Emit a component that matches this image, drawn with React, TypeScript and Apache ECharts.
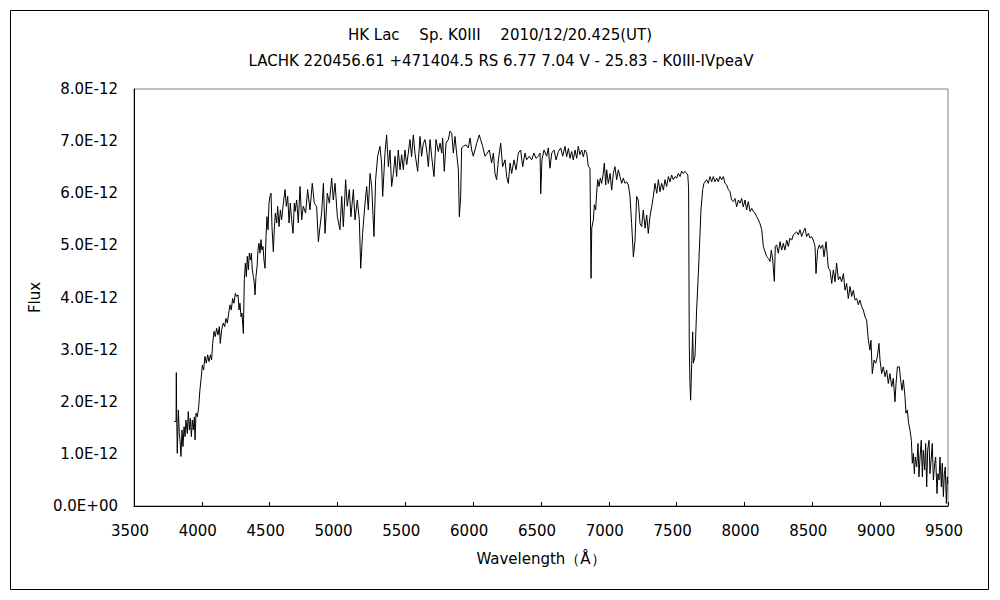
import React, { useEffect, useRef } from "react";
import * as echarts from "echarts";

// Flux values are in units of 1E-12
const TITLE_LINE_1 = "HK Lac 　Sp. K0III 　2010/12/20.425(UT)";
const TITLE_LINE_2 = "LACHK 220456.61 +471404.5 RS 6.77 7.04 V - 25.83 - K0III-IVpeaV";
const X_NAME = "Wavelength（Å）";
const Y_NAME = "Flux";
const X_MIN = 3500, X_MAX = 9500, X_STEP = 500;
const Y_MIN = 0, Y_MAX = 8, Y_STEP = 1;

const SPEC_BLUE: [number, number][] = [
  [3797,1.62],[3810,1.62],[3812,2.56],[3814,1.87],[3819,1.01],[3827,1.84],[3834,1.39],[3839,1.27],[3846,0.95],[3854,1.46],
  [3861,1.14],[3869,1.52],[3876,1.33],[3883,1.65],[3893,1.39],[3900,1.81],[3908,1.46],[3915,1.68],[3923,1.33],[3930,1.65],
  [3937,1.46],[3945,1.71],[3950,1.27],[3957,1.78],[3967,1.71],[3977,1.91],[3986,2.23],[3996,2.48],[4004,2.70],[4013,2.61],
  [4023,2.87],[4033,2.74],[4043,2.90],[4053,2.77],[4063,2.90],[4072,2.80],[4080,3.12],[4090,3.35],[4099,3.25],[4109,3.41],
  [4119,3.28],[4129,3.44],[4136,3.12],[4146,3.38],[4158,3.51],[4168,3.44],[4178,3.60],[4188,3.51],[4198,3.70],[4208,3.86],
  [4217,3.76],[4227,3.98],[4237,3.89],[4247,4.08],[4257,4.02],[4267,4.05],[4274,3.76],[4281,3.89],[4289,3.63],[4296,3.70],
  [4306,3.31],[4313,4.34],[4321,4.66],[4328,4.40],[4335,4.79],[4343,4.53],[4350,4.85],[4358,4.72],[4365,4.85],[4372,4.53],
  [4380,4.40],[4387,4.27],[4392,4.05],[4399,4.40],[4407,4.59],[4414,4.91],[4421,5.04],[4429,4.85],[4436,5.11],[4443,4.91],
  [4451,4.98],[4458,4.72],[4466,4.56],[4473,5.17],[4480,5.55],[4488,5.30],[4495,5.81],[4502,5.94],[4510,6.00],[4517,5.36],
  [4527,4.88],[4534,5.30],[4542,5.62],[4552,5.43],[4559,5.75],[4569,5.36],[4579,5.68],[4588,5.49],[4601,5.81],[4613,6.07],
  [4623,5.75],[4633,5.94],[4643,5.43],[4652,5.81],[4662,5.49],[4672,5.23],[4682,5.81],
];

const SPEC_GREEN: [number, number][] = [
  [4687,5.65],[4699,5.87],[4711,5.43],[4724,6.13],[4736,5.49],[4748,5.75],[4765,5.62],[4780,6.07],[4797,5.68],[4814,6.19],
  [4829,5.81],[4846,5.75],[4859,5.07],[4871,5.36],[4883,5.62],[4896,6.19],[4908,5.23],[4925,6.00],[4940,5.81],[4957,6.29],
  [4969,5.87],[4982,6.19],[4999,5.55],[5018,5.30],[5031,5.94],[5043,5.36],[5060,6.26],[5072,5.75],[5087,6.07],[5099,5.55],
  [5117,6.07],[5129,5.49],[5146,5.87],[5161,5.49],[5171,4.56],[5185,5.23],[5203,5.81],[5215,6.13],[5227,5.68],[5240,6.38],
  [5252,6.13],[5269,5.17],[5281,6.26],[5296,6.71],[5313,6.90],[5325,6.58],[5333,5.94],[5350,6.77],[5362,7.12],[5375,6.51],
  [5387,6.83],[5399,6.13],[5412,6.38],[5424,6.71],[5436,6.32],[5448,6.83],[5461,6.45],[5473,6.74],[5485,6.45],[5497,6.83],
  [5510,6.55],[5522,6.77],[5534,7.03],[5546,6.70],[5559,7.12],[5571,6.77],[5591,6.42],[5608,7.09],[5620,6.71],[5632,6.95],
  [5645,7.03],[5657,6.83],[5670,6.51],[5682,7.03],[5694,6.71],[5711,6.32],
];

const SPEC_YELLOW: [number, number][] = [
  [5726,7.03],[5743,6.80],[5756,6.96],[5768,6.77],[5775,7.06],[5787,6.42],[5800,6.96],[5817,7.03],[5829,7.19],[5842,7.15],
  [5854,6.77],[5866,7.09],[5878,6.77],[5891,6.45],[5898,5.55],[5908,5.94],[5915,6.87],[5928,6.90],[5947,6.93],[5964,6.87],
  [5977,7.06],[5989,6.83],[6001,6.71],[6026,6.96],[6045,7.12],[6055,7.03],[6070,6.90],[6087,6.71],[6104,6.77],[6119,6.83],
  [6136,6.58],[6149,6.77],[6161,6.38],[6173,6.26],[6186,6.64],[6203,6.96],[6217,6.51],[6235,6.64],[6247,6.32],[6259,6.19],
  [6272,6.58],[6284,6.38],[6301,6.64],[6316,6.45],[6333,6.77],[6350,6.83],[6365,6.51],[6382,6.77],[6394,6.64],[6414,6.71],
  [6431,6.64],[6448,6.77],[6463,6.67],[6480,6.71],[6493,6.77],[6498,5.99],[6507,6.64],[6522,6.83],[6542,6.71],[6554,6.87],
  [6566,6.48],[6579,6.77],[6596,6.83],[6611,6.64],[6628,6.80],[6645,6.87],[6660,6.71],[6677,6.90],[6689,6.70],[6702,6.86],
];

const SPEC_ORANGE: [number, number][] = [
  [6714,6.67],[6726,6.80],[6738,6.64],[6751,6.83],[6763,6.67],[6775,6.90],[6787,6.74],[6800,6.83],[6812,6.70],[6824,6.83],
  [6837,6.77],[6849,6.51],[6861,6.48],[6869,4.37],[6874,5.33],[6886,5.49],[6893,5.78],[6903,5.68],[6910,6.00],[6918,6.26],
  [6928,6.13],[6937,6.29],[6947,6.19],[6959,6.38],[6967,6.58],[6977,6.16],[6984,6.45],[6996,6.19],[7009,6.38],[7021,6.06],
  [7033,6.38],[7045,6.51],[7058,6.26],[7070,6.45],[7082,6.32],[7095,6.19],[7107,6.29],[7119,6.19],[7131,6.22],[7144,6.16],
  [7156,5.94],[7168,5.42],[7181,4.78],[7193,5.10],[7205,5.94],[7217,5.87],[7230,5.42],[7242,5.36],[7254,5.68],[7267,5.33],
  [7279,5.58],[7291,5.23],[7303,5.55],[7316,5.74],[7328,5.94],[7340,6.19],[7353,6.00],[7365,6.26],[7377,6.03],[7389,6.19],
  [7402,6.06],[7414,6.26],[7426,6.13],[7439,6.32],[7451,6.22],[7463,6.35],[7475,6.26],[7488,6.32],[7500,6.29],[7512,6.38],
  [7525,6.32],[7537,6.42],[7549,6.38],[7561,6.42],[7574,6.38],[7582,6.35],[7588,6.10],
];

const SPEC_RED: [number, number][] = [
  [7593,3.06],[7598,2.35],[7603,2.03],[7611,2.74],[7618,3.34],[7623,2.74],[7635,2.87],[7647,3.76],[7660,4.46],[7672,5.23],
  [7679,5.68],[7692,6.07],[7701,6.19],[7721,6.26],[7733,6.19],[7746,6.32],[7758,6.22],[7770,6.32],[7783,6.22],[7795,6.29],
  [7807,6.22],[7819,6.32],[7832,6.26],[7844,6.32],[7856,6.19],[7869,6.16],[7881,6.07],[7893,6.03],[7905,5.87],[7918,5.84],
  [7930,5.90],[7942,5.74],[7955,5.87],[7967,5.81],[7979,5.90],[7991,5.74],[8004,5.87],[8016,5.68],[8028,5.84],[8041,5.65],
  [8053,5.71],[8065,5.65],[8077,5.62],[8090,5.55],[8102,5.49],[8114,5.42],[8127,5.30],[8139,4.98],[8151,4.88],[8163,4.79],
  [8176,4.75],[8188,4.69],[8198,4.91],[8208,4.72],[8220,4.31],[8227,4.98],[8237,5.01],[8249,4.85],[8262,5.07],[8274,4.91],
  [8286,5.04],[8298,4.91],[8311,5.10],[8323,4.98],[8335,5.14],[8348,5.10],[8360,5.20],[8372,5.23],[8384,5.26],[8397,5.20],
  [8409,5.30],[8421,5.17],[8434,5.26],[8446,5.33],[8458,5.17],[8471,5.23],[8483,5.14],[8495,5.17],[8507,5.10],[8520,4.98],
  [8527,4.46],[8539,4.91],[8552,5.01],
];

const SPEC_IR: [number, number][] = [
  [8561,4.94],[8576,5.01],[8586,4.78],[8601,5.07],[8611,4.78],[8618,4.56],[8630,4.53],[8643,4.27],[8655,4.53],[8667,4.30],
  [8679,4.66],[8692,4.34],[8704,4.40],[8716,4.30],[8729,4.46],[8741,4.14],[8753,4.27],[8765,3.98],[8778,4.21],[8790,4.02],
  [8802,4.14],[8815,3.95],[8827,3.98],[8839,3.86],[8851,3.95],[8864,3.82],[8876,3.76],[8888,3.63],[8900,3.57],[8913,3.18],
  [8925,2.99],[8932,3.18],[8942,2.54],[8955,2.80],[8967,2.74],[8979,2.86],[8991,3.12],[8999,2.80],[9011,2.54],[9023,2.67],
  [9036,2.48],[9048,2.61],[9060,2.35],[9072,2.54],[9085,2.29],[9097,2.45],[9109,2.00],[9117,2.35],[9127,2.67],[9141,2.67],
  [9151,2.42],[9161,2.22],[9171,2.42],[9183,2.10],[9190,1.78],[9200,1.84],[9210,1.58],[9220,1.46],[9230,1.26],[9237,0.82],
  [9245,1.01],[9252,0.62],[9259,0.94],[9269,0.75],[9279,1.20],[9286,0.56],[9294,0.94],[9303,1.26],[9311,0.56],[9318,1.07],
  [9328,0.69],[9335,1.20],[9343,0.37],[9350,1.07],[9360,1.26],[9367,0.62],[9377,0.94],[9384,1.20],[9392,0.50],[9402,0.82],
  [9409,0.94],[9419,0.24],[9426,0.62],[9434,0.50],[9441,0.94],[9451,0.37],[9458,0.82],[9466,0.18],[9473,0.62],[9480,0.75],
  [9488,0.05],[9495,0.56],[9498,0.43],
];

const FONT = "'DejaVu Sans', sans-serif";

export default function App() {
  const ref = useRef<HTMLDivElement>(null);
  useEffect(() => {
    if (!ref.current) return;
    const chart = echarts.init(ref.current, undefined, { renderer: "svg" });
    const data = [...SPEC_BLUE, ...SPEC_GREEN, ...SPEC_YELLOW, ...SPEC_ORANGE, ...SPEC_RED, ...SPEC_IR];
    chart.setOption({
      animation: false,
      backgroundColor: "#ffffff",
      textStyle: { fontFamily: FONT },
      grid: { left: 134, top: 89, right: 52, bottom: 94, show: true, borderColor: "#808080", borderWidth: 1, backgroundColor: "transparent" },
      xAxis: {
        type: "value", min: X_MIN, max: X_MAX, interval: X_STEP,
        axisLine: { show: true, onZero: false, lineStyle: { color: "#000", width: 1 } },
        axisTick: { show: true, inside: true, length: 4, lineStyle: { color: "#000" } },
        axisLabel: {
          color: "#000", fontSize: 15, fontFamily: FONT, margin: 17, padding: [0, 8, 0, 0],
          formatter: (v: number) => String(v),
        },
        splitLine: { show: false },
        name: X_NAME, nameLocation: "middle", nameGap: 45,
        nameTextStyle: { color: "#000", fontSize: 15, fontFamily: FONT },
      },
      yAxis: {
        type: "value", min: Y_MIN, max: Y_MAX, interval: Y_STEP,
        axisLine: { show: true, onZero: false, lineStyle: { color: "#000", width: 1 } },
        axisTick: { show: false },
        axisLabel: {
          color: "#000", fontSize: 15, fontFamily: FONT, margin: 16,
          formatter: (v: number) => (v === 0 ? "0.0E+00" : v.toFixed(1) + "E-12"),
        },
        splitLine: { show: false },
        name: Y_NAME, nameLocation: "middle", nameGap: 86, nameRotate: 90,
        nameTextStyle: { color: "#000", fontSize: 15, fontFamily: FONT },
      },
      series: [{
        type: "line", data, symbol: "none", showSymbol: false, silent: true,
        lineStyle: { color: "#000", width: 1 },
      }],
      graphic: [
        { type: "rect", shape: { x: 10.5, y: 10.5, width: 978, height: 579 }, style: { fill: "none", stroke: "#000", lineWidth: 1 }, silent: true },
        { type: "text", x: 500, y: 35, style: { text: TITLE_LINE_1, fill: "#000", font: "15px " + FONT, textAlign: "center", textVerticalAlign: "middle" } },
        { type: "text", x: 501, y: 61, style: { text: TITLE_LINE_2, fill: "#000", font: "15px " + FONT, textAlign: "center", textVerticalAlign: "middle" } },
      ],
    });
    return () => chart.dispose();
  }, []);
  return <div ref={ref} style={{ position: "fixed", left: 0, top: 0, width: 1000, height: 600 }} />;
}
